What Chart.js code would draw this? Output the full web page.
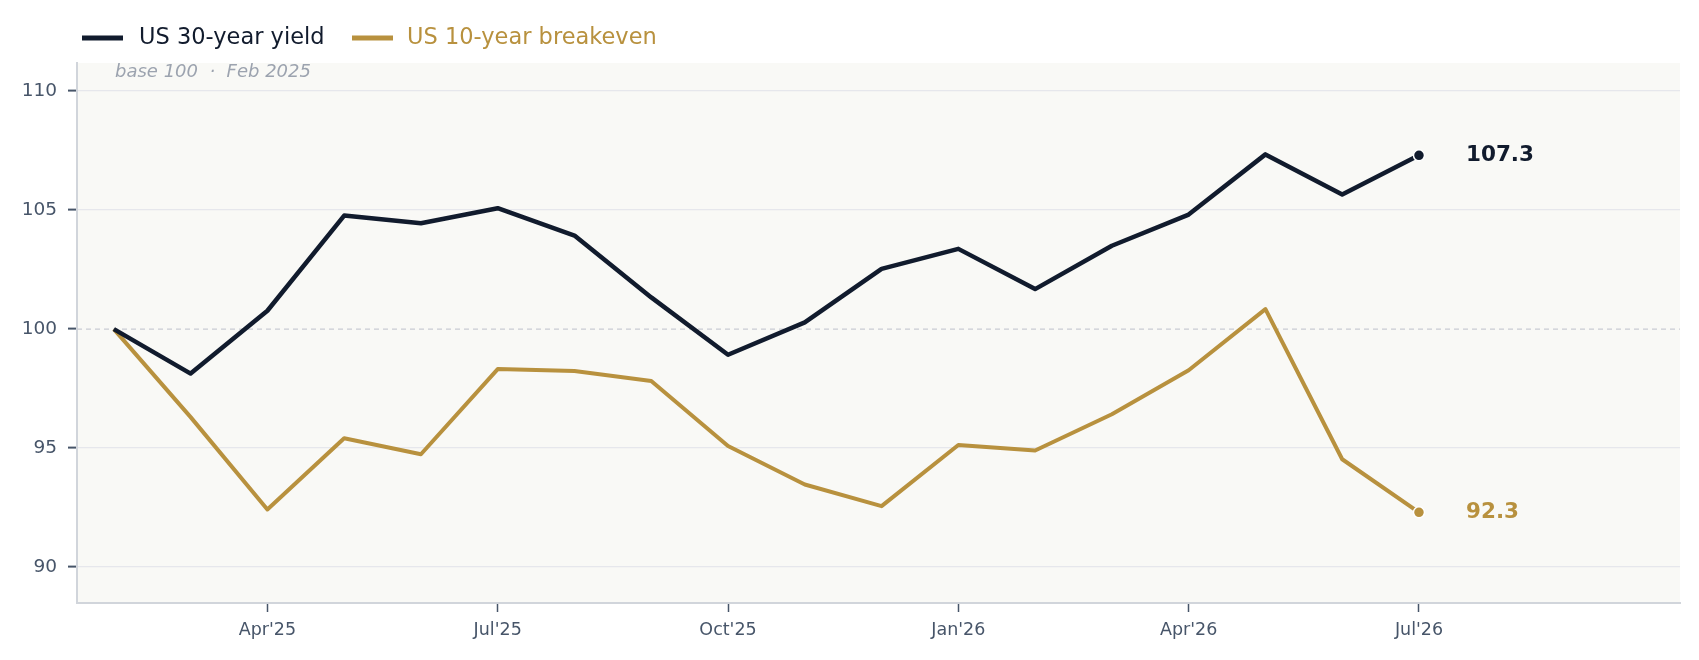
<!DOCTYPE html>
<html>
<head>
<meta charset="utf-8">
<script src="https://cdn.jsdelivr.net/npm/chart.js@4.4.1/dist/chart.umd.min.js"></script>
<style>
html,body{margin:0;padding:0;background:#ffffff;}
#wrap{width:1699px;height:660px;position:relative;}
</style>
</head>
<body>
<div id="wrap"><canvas id="c" width="1699" height="660"></canvas></div>
<script>
// ---- data ----
const months = ["Feb'25","Mar'25","Apr'25","May'25","Jun'25","Jul'25","Aug'25","Sep'25","Oct'25","Nov'25","Dec'25","Jan'26","Feb'26","Mar'26","Apr'26","May'26","Jun'26","Jul'26"];
const yield30 = [100, 98.13, 100.77, 104.77, 104.45, 105.08, 103.93, 101.33, 98.92, 100.28, 102.53, 103.37, 101.68, 103.5, 104.81, 107.34, 105.65, 107.3];
const breakeven10 = [100, 96.3, 92.42, 95.41, 94.74, 98.32, 98.24, 97.82, 95.09, 93.47, 92.56, 95.13, 94.9, 96.42, 98.27, 100.84, 94.53, 92.3];
const xTickLabels = ["Apr'25","Jul'25","Oct'25","Jan'26","Apr'26","Jul'26"];
const yTicks = [90, 95, 100, 105, 110];
const seriesNames = ["US 30-year yield", "US 10-year breakeven"];
const seriesColors = ["#111b2d", "#b8913e"];
const annotationText = "base 100\u00a0\u00a0\u00b7\u00a0\u00a0Feb 2025";
const baseValue = 100;

const FONT = "'DejaVu Sans', 'Noto Sans', sans-serif";
const xTickIdx = xTickLabels.map(l => months.indexOf(l));

const toPts = arr => arr.map((v, i) => ({x: i, y: v}));
const lastIdx = months.length - 1;

const bgPlugin = {
  id: 'bg',
  beforeDraw(chart) {
    const {ctx, chartArea: a} = chart;
    ctx.save();
    ctx.fillStyle = '#f9f9f6';
    ctx.fillRect(a.left, a.top, a.right - a.left, a.bottom - a.top);
    ctx.restore();
  },
  beforeDatasetsDraw(chart) {
    const {ctx, chartArea: a, scales} = chart;
    const y = scales.y.getPixelForValue(baseValue);
    ctx.save();
    ctx.strokeStyle = '#c9ccd4';
    ctx.lineWidth = 1.2;
    ctx.setLineDash([5, 4]);
    ctx.beginPath();
    ctx.moveTo(a.left, y);
    ctx.lineTo(a.right, y);
    ctx.stroke();
    ctx.restore();
  },
  afterDatasetsDraw(chart) {
    const {ctx} = chart;
    ctx.save();
    chart.data.datasets.forEach((ds, di) => {
      const meta = chart.getDatasetMeta(di);
      const pt = meta.data[meta.data.length - 1];
      const v = ds.data[ds.data.length - 1].y;
      ctx.font = "bold 21.5px " + FONT;
      ctx.fillStyle = seriesColors[di];
      ctx.textAlign = 'left';
      ctx.textBaseline = 'middle';
      ctx.fillText(v.toFixed(1), pt.x + 47, pt.y);
    });
    ctx.restore();
  },
  afterDraw(chart) {
    const {ctx} = chart;
    ctx.save();
    // legend
    const legendY = 38;
    const items = [{lx: 82, tx: 139}, {lx: 352, tx: 407}];
    items.forEach((it, i) => {
      ctx.fillStyle = seriesColors[i];
      ctx.fillRect(it.lx, legendY - 2.5, 41, 5);
      ctx.font = "22.5px " + FONT;
      ctx.textAlign = 'left';
      ctx.textBaseline = 'middle';
      ctx.fillText(seriesNames[i], it.tx, legendY);
    });
    // annotation
    ctx.font = "italic 18px " + FONT;
    ctx.fillStyle = '#9ca3af';
    ctx.textBaseline = 'middle';
    ctx.fillText(annotationText, 115, 72);
    ctx.restore();
  }
};

new Chart(document.getElementById('c'), {
  type: 'line',
  data: {
    datasets: [
      {
        label: seriesNames[0],
        data: toPts(yield30),
        borderColor: seriesColors[0],
        backgroundColor: seriesColors[0],
        borderWidth: 4.5,
        pointRadius: ctx => ctx.dataIndex === lastIdx ? 5.5 : 0,
        pointBorderColor: '#ffffff',
        pointBorderWidth: 1.5,
        pointBackgroundColor: seriesColors[0],
        tension: 0,
        borderJoinStyle: 'round'
      },
      {
        label: seriesNames[1],
        data: toPts(breakeven10),
        borderColor: seriesColors[1],
        backgroundColor: seriesColors[1],
        borderWidth: 4,
        pointRadius: ctx => ctx.dataIndex === lastIdx ? 5.5 : 0,
        pointBorderColor: '#ffffff',
        pointBorderWidth: 1.5,
        pointBackgroundColor: seriesColors[1],
        tension: 0,
        borderJoinStyle: 'round'
      }
    ]
  },
  options: {
    responsive: false,
    animation: false,
    devicePixelRatio: 1,
    layout: {padding: {left: 0, right: 19, top: 63, bottom: 0}},
    plugins: {legend: {display: false}, tooltip: {enabled: false}},
    scales: {
      x: {
        type: 'linear',
        min: -0.48,
        max: 20.4,
        afterBuildTicks: s => { s.ticks = xTickIdx.map(v => ({value: v})); },
        afterFit: s => { s.height = 57; },
        grid: {drawOnChartArea: false, drawTicks: true, tickLength: 9, tickColor: '#475569', tickWidth: 1.5},
        border: {display: true, color: '#d1d5db', width: 2},
        ticks: {
          autoSkip: false, maxRotation: 0,
          color: '#475569',
          font: {family: FONT, size: 17.5},
          padding: 8,
          callback: v => xTickLabels[xTickIdx.indexOf(v)]
        }
      },
      y: {
        min: 88.49,
        max: 111.18,
        afterBuildTicks: s => { s.ticks = yTicks.map(v => ({value: v})); },
        afterFit: s => { s.width = 77; },
        grid: {
          color: ctx => (ctx.tick && ctx.tick.value === baseValue) ? 'rgba(0,0,0,0)' : '#e6e7ec',
          lineWidth: 1.2,
          tickColor: '#475569',
          tickLength: 9,
          tickWidth: 2
        },
        border: {display: true, color: '#d1d5db', width: 2},
        ticks: {color: '#475569', font: {family: FONT, size: 18.5}, padding: 11}
      }
    }
  },
  plugins: [bgPlugin]
});
</script>
</body>
</html>
